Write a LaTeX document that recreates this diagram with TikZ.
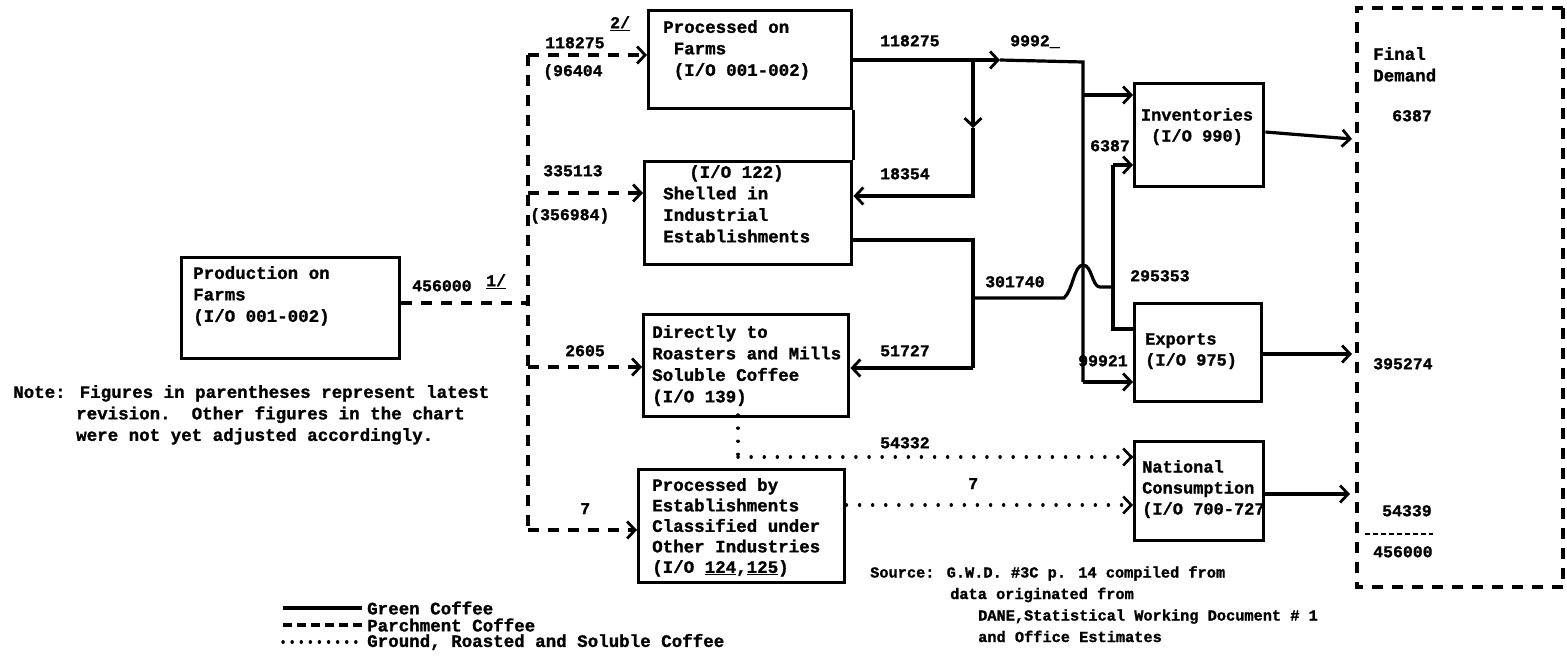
\documentclass[tikz,border=0pt]{standalone}
\usepackage{fontspec}
\newfontfamily\twfont{Liberation Mono}[BoldFeatures={FakeBold=1.2}]
\usetikzlibrary{arrows.meta}
\begin{document}
\begin{tikzpicture}[x=1pt,y=-1pt,
  box/.style={draw,line width=3.4pt,inner sep=0pt,anchor=north west},
  txt/.style={font=\twfont\bfseries\fontsize{17.5}{21.5}\selectfont,inner sep=0pt,anchor=north west,align=left},
  stxt/.style={font=\twfont\bfseries\fontsize{17}{21}\selectfont,inner sep=0pt,anchor=north west,align=left},
  srctxt/.style={font=\twfont\bfseries\fontsize{15.3}{21.5}\selectfont,inner sep=0pt,anchor=north west,align=left},
  num/.style={font=\twfont\bfseries\fontsize{16.5}{19}\selectfont,inner sep=0pt,anchor=north west},
  green/.style={line width=3.2pt},
  parch/.style={line width=3.2pt,dash pattern=on 11pt off 9pt},
  ground/.style={line width=3.4pt,line cap=round,dash pattern=on 0.1pt off 13pt},
  arr/.style={-{Straight Barb[length=8pt,width=17pt,line width=2.8pt]}},
]
\useasboundingbox[fill=white] (0,0) rectangle (1567,665);

% ---------- boxes ----------
\node[box,minimum width=218pt,minimum height=101pt] (prod) at (180,256) {};
\node[box,minimum width=203pt,minimum height=98pt] (pf) at (647,9) {};
\node[box,minimum width=207pt,minimum height=103pt] (sh) at (643,160) {};
\node[box,minimum width=205pt,minimum height=102pt] (dr) at (642,313) {};
\node[box,minimum width=206pt,minimum height=113pt] (pb) at (637,468) {};
\node[box,minimum width=129pt,minimum height=103pt] (inv) at (1133,82) {};
\node[box,minimum width=127pt,minimum height=98pt] (exp) at (1133,302) {};
\node[box,minimum width=129pt,minimum height=99pt] (nat) at (1133,440) {};
\draw[line width=3.2pt,dash pattern=on 11pt off 9pt] (1563,8) -- (1357,8) -- (1357,587) -- (1563,587);
\draw[line width=3.2pt,dash pattern=on 11pt off 9pt] (1563,8) -- (1563,587);

% ---------- box texts ----------
\node[txt] (prodt) at (193,266) {Production on\\Farms\\(I/O 001-002)};
\node[txt] (pft) at (663,20) {Processed on\\\hspace*{10.5pt}Farms\\\hspace*{10.5pt}(I/O 001-002)};
\node[txt] (sht) at (663,165) {\hspace*{26pt}(I/O 122)\\Shelled in\\Industrial\\Establishments};
\node[txt] (drt) at (652,325) {Directly to\\Roasters and Mills\\Soluble Coffee\\(I/O 139)};
\node[txt,font=\twfont\bfseries\fontsize{17.5}{20.5}\selectfont] (pbt) at (652,478) {Processed by\\Establishments\\Classified under\\Other Industries\\(I/O \underline{124},\underline{125})};
\node[stxt,align=center,anchor=north] (invt) at (1197,108) {Inventories\\(I/O 990)};
\node[stxt] (expt) at (1145,333) {Exports\\(I/O 975)};
\node[stxt] (natt) at (1142,460) {National\\Consumption\\(I/O 700-727};
\node[txt] (fdt) at (1373,47) {Final\\Demand};

% ---------- parchment coffee (dashed) ----------
\coordinate (t0) at (528,55);
\coordinate (t1) at (528,193);
\coordinate (tp) at (528,303);
\coordinate (t2) at (528,367);
\coordinate (t3) at (528,530);
\draw[parch] (t0) -- (t3);
\draw[parch] (prod.east |- tp) -- (tp);
\draw[parch,arr] (t0) -- (pf.west |- t0);
\draw[parch,arr] (t1) -- (sh.west |- t1);
\draw[parch,arr] (t2) -- (dr.west |- t2);
\draw[parch,arr] (t3) -- (pb.west |- t3);

% ---------- green coffee (solid) ----------
\coordinate (g0) at (1000,60);
\coordinate (g1) at (1083,62);
\coordinate (gi) at (1083,95);
\coordinate (ge) at (1083,382);
\coordinate (b0) at (973,60);
\coordinate (bm) at (973,128);
\coordinate (b1) at (973,196);
\coordinate (s0) at (973,240);
\coordinate (s1) at (973,368);
\coordinate (h0) at (973,298);
\coordinate (h1) at (1064,298);
\coordinate (h2) at (1113,287);
\coordinate (v0) at (1113,165);
\coordinate (v1) at (1113,329);
\draw[green,arr] (pf.east |- g0) -- (g0);
\draw[green] (g0) -- (g1) -- (ge);
\draw[green,arr] (ge) -- (exp.west |- ge);
\draw[green,arr] (gi) -- (inv.west |- gi);
\draw[green,arr] (b0) -- (bm);
\draw[green,arr] (bm) -- (b1) -- (sh.east |- b1);
\draw[green] (pf.south east) -- (sh.north east);
\draw[green] (sh.east |- s0) -- (s0) -- (s1);
\draw[green,arr] (s1) -- (dr.east |- s1);
\draw[green] (h0) -- (h1) .. controls (1073,290) and (1074,265) .. (1083,265) .. controls (1092,265) and (1092,287) .. (1100,287) -- (h2);
\draw[green] (v0) -- (v1) -- (exp.west |- v1);
\draw[green,arr] (v0) -- (inv.west |- v0);
\coordinate (f1) at (1352,139);
\coordinate (f2) at (1352,354);
\coordinate (f3) at (1350,494);
\draw[green,arr] (inv.east |- 0,132) -- (f1);
\draw[green,arr] (exp.east |- f2) -- (f2);
\draw[green,arr] (nat.east |- f3) -- (f3);

% ---------- ground, roasted and soluble (dotted) ----------
\coordinate (d0) at (738,415);
\coordinate (d1) at (738,457);
\coordinate (d2) at (843,505);
\draw[ground] (d0) -- (d1);
\draw[ground] (d1) -- (nat.west |- d1);
\draw[line width=2.6pt,-{Straight Barb[length=8pt,width=17pt,line width=2.6pt]}] ([xshift=-3pt]nat.west |- d1) -- (nat.west |- d1);
\draw[ground] (pb.east |- d2) -- (nat.west |- d2);
\draw[line width=2.6pt,-{Straight Barb[length=8pt,width=17pt,line width=2.6pt]}] ([xshift=-3pt]nat.west |- d2) -- (nat.west |- d2);

% ---------- labels ----------
\node[num] (l456) at (412,280) {456000};
\node[num] (l1) at (486,274) {\underline{1/}};
\node[num] (l118a) at (545,37) {118275};
\node[num] (l2) at (610,16) {\underline{2/}};
\node[num] (l964) at (543,64) {(96404};
\node[num] (l335) at (543,165) {335113};
\node[num] (l356) at (530,208) {(356984)};
\node[num] (l2605) at (565,345) {2605};
\node[num] (l7a) at (580,503) {7};
\node[num] (l118b) at (880,35) {118275};
\node[num] (l9992) at (1010,35) {9992\_};
\node[num] (l18354) at (880,168) {18354};
\node[num] (l301) at (985,276) {301740};
\node[num] (l51727) at (880,345) {51727};
\node[num] (l6387a) at (1090,140) {6387};
\node[num] (l2953) at (1130,270) {295353};
\node[num] (l99921) at (1078,355) {99921};
\node[num] (l54332) at (880,437) {54332};
\node[num] (l7b) at (968,478) {7};
\node[num] (l6387b) at (1392,110) {6387};
\node[num] (l3952) at (1373,358) {395274};
\node[num] (l5433) at (1382,505) {54339};
\node[num] (l456b) at (1373,546) {456000};
\coordinate (dl0) at (1365,534);
\coordinate (dl1) at (1433,534);
\draw[line width=2.4pt,dash pattern=on 5pt off 3pt] (dl0) -- (dl1);

% ---------- note ----------
\node[txt] (note) at (13,385) {Note: Figures in parentheses represent latest\\\hspace*{63pt}revision.\ \ Other figures in the chart\\\hspace*{63pt}were not yet adjusted accordingly.};

% ---------- source ----------
\node[srctxt] (src) at (870,566) {Source: G.W.D. \#3C p. 14 compiled from\\\hspace*{80pt}data originated from\\\hspace*{108pt}DANE,Statistical Working Document \# 1\\\hspace*{108pt}and Office Estimates};

% ---------- legend ----------
\coordinate (k1a) at (283,608); \coordinate (k1b) at (362,608);
\coordinate (k2a) at (283,625); \coordinate (k2b) at (362,625);
\coordinate (k3a) at (283,642); \coordinate (k3b) at (362,642);
\draw[green] (k1a) -- (k1b);
\draw[parch,dash pattern=on 9pt off 5pt] (k2a) -- (k2b);
\draw[ground,dash pattern=on 0.1pt off 9pt] (k3a) -- (k3b);
\node[txt,anchor=west] (k1t) at (367,608) {Green Coffee};
\node[txt,anchor=west] (k2t) at (367,625) {Parchment Coffee};
\node[txt,anchor=west] (k3t) at (367,642) {Ground, Roasted and Soluble Coffee};
\end{tikzpicture}
\end{document}
